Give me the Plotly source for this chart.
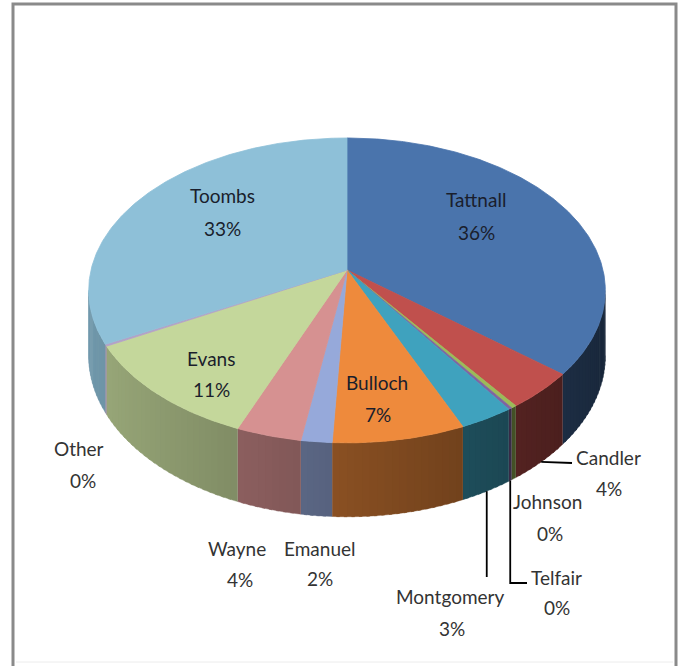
import numpy as np
import plotly.graph_objects as go

# ---- data -------------------------------------------------------------
counties = ["Tattnall", "Candler", "Johnson", "Telfair", "Montgomery", "Bulloch",
            "Emanuel", "Wayne", "Evans", "Other", "Toombs"]
shares = [36.0, 4.0, 0.3, 0.2, 3.0, 7.3, 1.7, 3.6, 11.0, 0.2, 32.7]

# ---- styles -----------------------------------------------------------
COLORS = ["#4A74AC", "#C0504D", "#9BBB59", "#8064A2", "#3FA2BE", "#EE8A3C",
          "#96A9DA", "#D69191", "#C4D79B", "#B3A2C7", "#8EC0D8"]
FONT = "Lato"
INSIDE_TXT = "#1a1e2c"
OUTSIDE_TXT = "#333333"
FONT_SIZE = 19

# label placement (name line, percent line) in pixel space
LABEL_POS = {
    "Tattnall":   ((476, 199), (476, 232)),
    "Toombs":     ((222, 195), (222, 228)),
    "Evans":      ((211, 358), (211, 389)),
    "Bulloch":    ((377, 382), (378, 414)),
    "Other":      ((79, 448), (83, 480)),
    "Wayne":      ((237, 548), (240, 579)),
    "Emanuel":    ((320, 548), (320, 578)),
    "Montgomery": ((450, 596), (452, 628)),
    "Telfair":    ((556, 577), (557, 607)),
    "Johnson":    ((547, 501), (550, 533)),
    "Candler":    ((608, 457), (609, 488)),
}
INSIDE = {"Tattnall", "Toombs", "Evans", "Bulloch"}
# leader line waypoints after the slice's rim point (None -> keep previous x)
LEADERS = {
    "Candler": [(572, 463)],
    "Montgomery": [(None, 577)],
    "Telfair": [(None, 583), (527, 583)],
}

# ---- projection of the tilted disc -----------------------------------
CX, CY = 347.0, 270.0
RX, RY = 256.0, 149.7
PERSP = 0.134
DEPTH = 64.0


def rim(theta_deg, r=1.0):
    t = np.radians(theta_deg)
    u = r * np.sin(t)
    v = -r * np.cos(t)
    s = 1.0 / (1.0 - PERSP * v)
    return CX + RX * u * s, CY + RY * v * s, s


def hex_rgb(h):
    h = h.lstrip("#")
    return np.array([int(h[i:i + 2], 16) for i in (0, 2, 4)], dtype=float)


def shade(h, f):
    c = np.clip(hex_rgb(h) * f, 0, 255).astype(int)
    return "rgb(%d,%d,%d)" % tuple(c)


total = float(sum(shares))
edges = np.concatenate([[0.0], np.cumsum(shares)]) / total * 360.0

# silhouette angles (left/right extremes of the rim)
th = np.linspace(0, 360, 3601)
xs_all, _, _ = rim(th)
right_mask = th <= 180
th_right = th[right_mask][np.argmax(xs_all[right_mask])]
left_mask = th >= 180
th_left = th[left_mask][np.argmin(xs_all[left_mask])]

fig = go.Figure()

# side wall, built from thin overlapping strips so the lighting varies
# smoothly around the rim
for name, col, a0, a1 in zip(counties, COLORS, edges[:-1], edges[1:]):
    a = max(a0, th_right)
    b = min(a1, th_left)
    if b <= a:
        continue
    n = int(np.ceil((b - a) / 1.5))
    cuts = np.linspace(a, b, n + 1)
    for j, (s0, s1) in enumerate(zip(cuts[:-1], cuts[1:])):
        e1 = min(s1 + 0.6, b) if j < n - 1 else s1
        tt = np.linspace(s0, e1, 6)
        x, y, s = rim(tt)
        yb = y + DEPTH * s
        px = np.concatenate([x, x[::-1]])
        py = np.concatenate([y, yb[::-1]])
        mid = np.radians(0.5 * (s0 + s1))
        f = 0.57 - 0.23 * np.sin(mid)
        c = shade(col, f)
        fig.add_trace(go.Scatter(x=px, y=py, mode="lines", fill="toself",
                                 fillcolor=c, line=dict(color=c, width=0.4),
                                 hoverinfo="skip", showlegend=False))

# top face slices
for name, col, a0, a1 in zip(counties, COLORS, edges[:-1], edges[1:]):
    tt = np.linspace(a0, a1, max(3, int((a1 - a0) / 0.5) + 2))
    x, y, _ = rim(tt)
    px = np.concatenate([[CX], x, [CX]])
    py = np.concatenate([[CY], y, [CY]])
    fig.add_trace(go.Scatter(x=px, y=py, mode="lines", fill="toself",
                             fillcolor=col, line=dict(color=col, width=0.8),
                             hoverinfo="skip", showlegend=False))

# leader lines from the lower rim edge of the slice
for name, pts in LEADERS.items():
    i = counties.index(name)
    mid = 0.5 * (edges[i] + edges[i + 1])
    x0, y0, s0 = rim(mid)
    lx, ly = [float(x0)], [float(y0 + DEPTH * s0)]
    for px, py in pts:
        lx.append(lx[-1] if px is None else px)
        ly.append(py)
    fig.add_trace(go.Scatter(x=lx, y=ly, mode="lines",
                             line=dict(color="#000000", width=1.8),
                             hoverinfo="skip", showlegend=False))

# data labels: county name and rounded share
for name, val in zip(counties, shares):
    (nx, ny), (vx, vy) = LABEL_POS[name]
    colr = INSIDE_TXT if name in INSIDE else OUTSIDE_TXT
    pct = "%d%%" % round(val / total * 100.0)
    for text, x, y in ((name, nx, ny), (pct, vx, vy)):
        fig.add_annotation(x=x, y=y, xref="x", yref="y", text=text,
                           showarrow=False, xanchor="center", yanchor="middle",
                           font=dict(family=FONT, size=FONT_SIZE, color=colr))

# chart frame
fig.add_shape(type="rect", xref="x", yref="y", x0=13, x1=676, y0=4, y1=672,
              line=dict(color="#8a8a8a", width=3), fillcolor="rgba(0,0,0,0)")
fig.add_shape(type="line", xref="x", yref="y", x0=16, x1=673, y0=662, y1=662,
              line=dict(color="#ececec", width=1))

fig.update_layout(
    width=680, height=666, autosize=False,
    margin=dict(l=0, r=0, t=0, b=0),
    paper_bgcolor="white", plot_bgcolor="white",
    xaxis=dict(range=[0, 680], visible=False, fixedrange=True),
    yaxis=dict(range=[666, 0], visible=False, fixedrange=True),
    showlegend=False,
)

fig.write_html("out.html")
